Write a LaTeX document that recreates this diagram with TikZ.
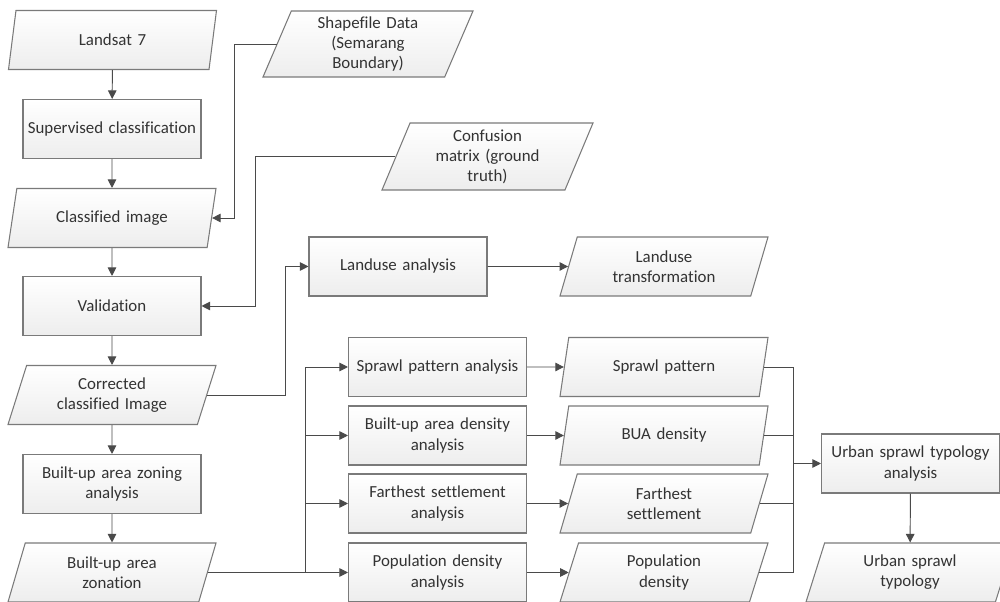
\documentclass[tikz,border=0pt]{standalone}
\usepackage{fontspec}
\setmainfont{Carlito}[Ligatures=NoCommon]
\usetikzlibrary{shapes.geometric,arrows.meta,positioning}

\definecolor{boxline}{HTML}{7A7A7A}
\definecolor{wire}{HTML}{4A4A4A}
\definecolor{ink}{HTML}{333333}

\tikzset{
    base/.style={draw=boxline, line width=0.6pt, top color=white, bottom color=gray!14,
                 text=ink, align=center, font=\fontsize{9.6}{11.4}\selectfont, inner sep=1pt},
    process/.style={base, rectangle, minimum width=3.56cm, minimum height=1.18cm, text width=3.4cm},
    data/.style={base, trapezium, trapezium left angle=64, trapezium right angle=116,
                 trapezium stretches body, minimum width=4.16cm, minimum height=1.18cm, text width=2.9cm},
    arr/.style={draw=wire, line width=0.55pt, -{Triangle[length=1.7mm,width=1.7mm]}},
    back/.style={draw=wire, line width=0.55pt, {Triangle[length=1.7mm,width=1.7mm]}-},
    wire/.style={draw=wire, line width=0.55pt}
}

\begin{document}
\begin{tikzpicture}
        \useasboundingbox (0,0) rectangle (20,12.04);
        \clip (0,0) rectangle (20,12.04);

        % left column
        \node[data] at (2.25,11.24) (lan) {Landsat 7};
        \node[process] at (2.24,9.46) (sup) {Supervised classification} edge[back] (lan);
        \node[data] at (2.24,7.68) (cls) {Classified image} edge[back] (sup);
        \node[process] at (2.24,5.92) (val) {Validation} edge[back] (cls);
        \node[data] at (2.24,4.14) (cor) {Corrected\\classified Image} edge[back] (val);
        \node[process] at (2.24,2.36) (zoa) {Built-up area zoning\\analysis} edge[back] (cor);
        \node[data] at (2.24,0.59) (zon) {Built-up area\\zonation} edge[back] (zoa);

        % inputs
        \node[data, minimum width=4.2cm, minimum height=1.32cm] at (7.36,11.16) (shp) {Shapefile Data\\(Semarang\\Boundary)};
        \node[data, minimum width=4.22cm, minimum height=1.34cm] at (9.75,8.91) (con) {Confusion\\matrix (ground\\truth)};

        % landuse
        \node[process] at (7.96,6.71) (lua) {Landuse analysis};
        \node[data] at (13.28,6.71) (lut) {Landuse\\transformation} edge[back] (lua);

        % analyses
        \node[process] at (8.75,4.70) (spa) {Sprawl pattern analysis};
        \node[process] at (8.75,3.33) (bda) {Built-up area density\\analysis};
        \node[process] at (8.75,1.97) (fsa) {Farthest settlement\\analysis};
        \node[process] at (8.75,0.59) (pda) {Population density\\analysis};

        \node[data] at (13.28,4.70) (sp) {Sprawl pattern} edge[back] (spa);
        \node[data] at (13.28,3.33) (bd) {BUA density} edge[back] (bda);
        \node[data] at (13.28,1.97) (fs) {Farthest\\settlement} edge[back] (fsa);
        \node[data] at (13.28,0.59) (pd) {Population\\density} edge[back] (pda);

        % typology
        \node[process] at (18.21,2.77) (uta) {Urban sprawl typology\\analysis};
        \node[data] at (18.2,0.59) (ut) {Urban sprawl\\typology} edge[back] (uta);

        % routed connectors
        \draw[arr] (shp.west) -- ++(-0.84,0) |- (cls.east);
        \draw[arr] (con.west) -- ++(-2.79,0) |- (val.east);
        \draw[arr] (cor.east) -- ++(1.56,0) |- (lua.west);

        \path (zon.east) -- ++(1.96,0) coordinate (split);
        \draw[arr] (zon.east) -- (pda.west);
        \foreach \n in {spa,bda,fsa}
            \draw[arr] (split) |- (\n.west);

        \path (sp.east) -- ++(0.59,0) coordinate (merge);
        \draw[wire] (sp.east) -| (merge |- pd.east) -- (pd.east);
        \draw[wire] (bd.east) -- (merge |- bd.east);
        \draw[wire] (fs.east) -- (merge |- fs.east);
        \draw[arr] (merge |- uta.west) -- (uta.west);
    \end{tikzpicture}
\end{document}
